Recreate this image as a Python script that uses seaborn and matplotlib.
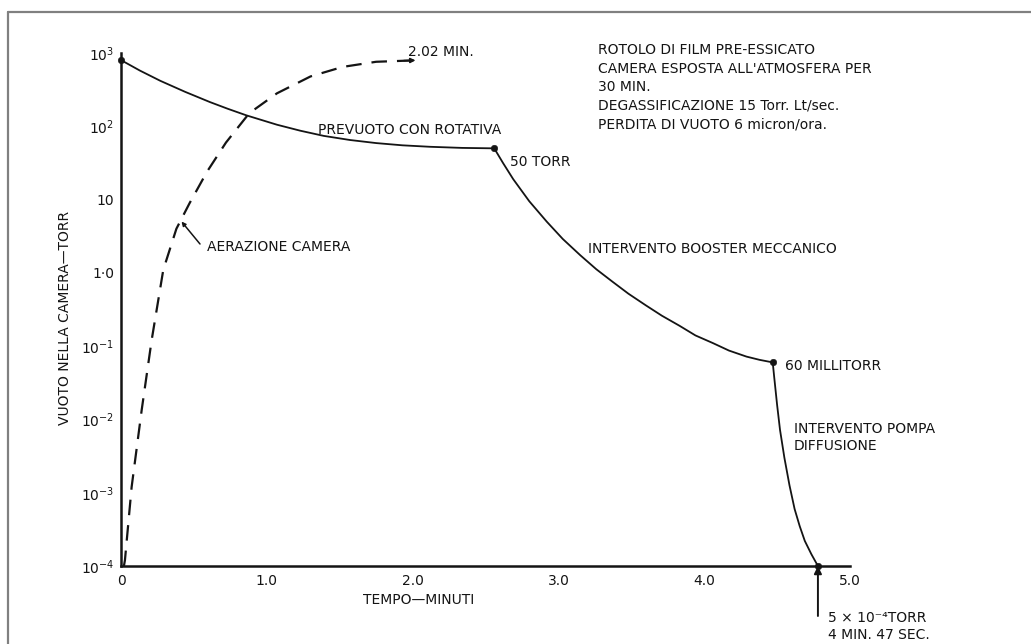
import matplotlib
matplotlib.use("Agg")
import matplotlib.pyplot as plt
from matplotlib.lines import Line2D
import pandas as pd
import seaborn as sns

# Pump-down of the chamber (minutes, torr): roughing pump, mechanical booster, diffusion pump
rough_t = [0.0, 0.13, 0.27, 0.44, 0.61, 0.73, 0.86, 1.07, 1.23, 1.39, 1.57,
           1.75, 1.93, 2.12, 2.34, 2.56]
rough_p = [800, 575, 417, 295, 214, 174, 141, 105, 87, 74, 65,
           59, 55, 52.5, 50.7, 50]
booster_t = [2.56, 2.62, 2.69, 2.80, 2.92, 3.03, 3.15, 3.26, 3.37, 3.48, 3.60,
             3.71, 3.83, 3.94, 4.06, 4.17, 4.29, 4.38, 4.47]
booster_p = [50, 31.6, 19, 9.5, 5.0, 2.9, 1.74, 1.12, 0.76, 0.52, 0.36,
             0.26, 0.19, 0.14, 0.11, 0.087, 0.072, 0.065, 0.06]
diffusion_t = [4.47, 4.48, 4.50, 4.52, 4.55, 4.585, 4.62, 4.655, 4.69, 4.735, 4.78]
diffusion_p = [0.06, 0.038, 0.0158, 0.0072, 0.0030, 0.00126, 0.00060, 0.00035,
               0.00022, 0.000145, 0.0001]

# Venting of the chamber back to atmosphere
vent_t = [0.02, 0.027, 0.073, 0.142, 0.21, 0.29, 0.38, 0.47, 0.59, 0.72,
          0.88, 1.07, 1.30, 1.52, 1.75, 2.02]
vent_p = [0.0001, 0.00012, 0.0012, 0.0135, 0.12, 1.1, 4.0, 8.9, 24, 60,
          151, 282, 479, 646, 759, 794]

# Stage change-over points
stage_t = [0.0, 2.56, 4.47, 4.78]
stage_p = [800, 50, 0.06, 0.0001]

x_ticks = [0, 1, 2, 3, 4, 5]
x_tick_labels = ["0", "1.0", "2.0", "3.0", "4.0", "5.0"]
y_ticks = [1e-4, 1e-3, 1e-2, 1e-1, 1, 10, 1e2, 1e3]
y_tick_labels = [r"$10^{-4}$", r"$10^{-3}$", r"$10^{-2}$", r"$10^{-1}$",
                 "1·0", "10", r"$10^{2}$", r"$10^{3}$"]

INK = "#141414"
W, H = 1031, 644

sns.set_theme(style="white")
plt.rcParams["font.family"] = ["DejaVu Sans"]
plt.rcParams["mathtext.fontset"] = "dejavusans"

fig = plt.figure(figsize=(W / 100, H / 100), dpi=100)
fig.patch.set_facecolor("white")
ax = fig.add_axes([121 / W, 1 - 566 / H, (850 - 121) / W, (566 - 53) / H])


def fx(x):
    return x / W


def fy(y):
    return 1 - y / H


pump = pd.DataFrame({
    "t": rough_t + booster_t[1:] + diffusion_t[1:],
    "p": rough_p + booster_p[1:] + diffusion_p[1:],
})
vent = pd.DataFrame({"t": vent_t, "p": vent_p})
stages = pd.DataFrame({"t": stage_t, "p": stage_p})

sns.lineplot(data=pump, x="t", y="p", sort=False, estimator=None,
             color=INK, lw=1.3, ax=ax, clip_on=False)
sns.lineplot(data=vent, x="t", y="p", sort=False, estimator=None,
             color=INK, lw=1.6, ax=ax, clip_on=False)
ax.lines[-1].set_dashes((7, 4.5))
sns.scatterplot(data=stages, x="t", y="p", color=INK, s=22, edgecolor=INK,
                ax=ax, clip_on=False, zorder=5)

# arrow tip at the end of the venting curve
ax.annotate("", xy=(vent_t[-1], vent_p[-1]), xytext=(vent_t[-1] - 0.08, vent_p[-1] * 0.99),
            arrowprops=dict(arrowstyle="-|>", color=INK, lw=1.2, mutation_scale=7,
                            shrinkA=0, shrinkB=0))

ax.set_yscale("log")
ax.set_xlim(0, 5)
ax.set_ylim(1e-4, 1e3)
ax.set_xticks(x_ticks)
ax.set_xticklabels(x_tick_labels)
ax.set_yticks(y_ticks)
ax.set_yticklabels(y_tick_labels)
ax.yaxis.set_minor_locator(matplotlib.ticker.NullLocator())
ax.tick_params(axis="y", direction="out", length=4, width=1.3, pad=1,
               labelsize=10, colors=INK)
ax.tick_params(axis="x", direction="in", length=5, width=1.3, pad=6,
               labelsize=10, colors=INK)
for side in ("top", "right"):
    ax.spines[side].set_visible(False)
for side in ("left", "bottom"):
    ax.spines[side].set_color(INK)
    ax.spines[side].set_linewidth(1.8)
ax.set_facecolor("white")

ax.set_xlabel("TEMPO—MINUTI", fontsize=10, color=INK)
ax.xaxis.set_label_coords((419 - 121) / 729, (566 - 593) / 513)
ax.set_ylabel("VUOTO NELLA CAMERA—TORR", fontsize=10, color=INK)
ax.yaxis.set_label_coords((72 - 121) / 729, (566 - 318) / 513)

# final-pressure arrow below the axis
ax.annotate("", xy=(diffusion_t[-1], diffusion_p[-1]), xytext=(0, -36),
            textcoords="offset points", annotation_clip=False,
            arrowprops=dict(arrowstyle="-|>", color=INK, lw=1.4, mutation_scale=11,
                            shrinkA=0, shrinkB=0))

# venting label with leader
ax.annotate("", xy=(0.415, 10 ** 0.70), xytext=(fx(200), fy(244)),
            textcoords="figure fraction",
            arrowprops=dict(arrowstyle="-|>", color=INK, lw=1.1, mutation_scale=6,
                            shrinkA=0, shrinkB=0))

txt = dict(fontsize=10, color=INK, va="center", ha="left")
fig.text(fx(408), fy(52), "2.02 MIN.", **txt)
notes = ["ROTOLO DI FILM PRE-ESSICATO",
         "CAMERA ESPOSTA ALL'ATMOSFERA PER",
         "30 MIN.",
         "DEGASSIFICAZIONE 15 Torr. Lt/sec.",
         "PERDITA DI VUOTO 6 micron/ora."]
for i, line in enumerate(notes):
    fig.text(fx(598), fy(50 + 18.6 * i), line, **txt)
fig.text(fx(318), fy(130), "PREVUOTO CON ROTATIVA", **txt)
fig.text(fx(510), fy(162), "50 TORR", **txt)
fig.text(fx(588), fy(249), "INTERVENTO BOOSTER MECCANICO", **txt)
fig.text(fx(785), fy(366), "60 MILLITORR", **txt)
fig.text(fx(794), fy(429), "INTERVENTO POMPA", **txt)
fig.text(fx(794), fy(446), "DIFFUSIONE", **txt)
fig.text(fx(207), fy(247), "AERAZIONE CAMERA", **txt)
fig.text(fx(828), fy(618), "5 × 10⁻⁴TORR", **txt)
fig.text(fx(828), fy(635), "4 MIN. 47 SEC.", **txt)

# page frame
frame = dict(transform=fig.transFigure, color="#808080", lw=1.6)
fig.add_artist(Line2D([fx(8), fx(8)], [0, fy(12)], **frame))
fig.add_artist(Line2D([fx(8), 1], [fy(12), fy(12)], **frame))

fig.savefig("out.png", dpi=100, facecolor="white")
